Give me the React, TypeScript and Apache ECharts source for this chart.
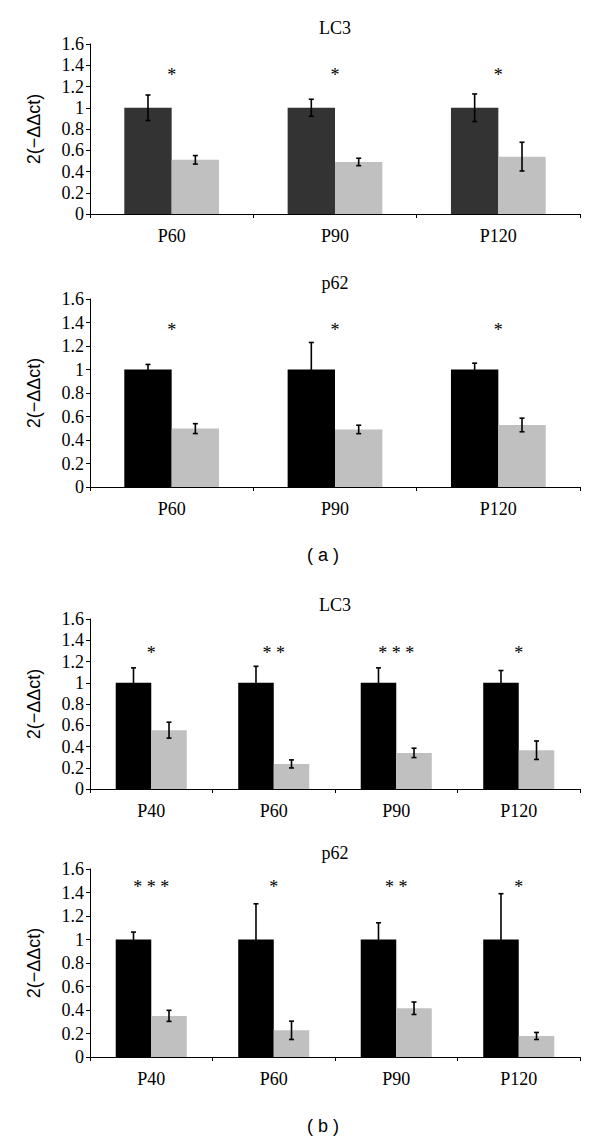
import React, { useEffect, useRef } from "react";
import * as echarts from "echarts";

// ---- data ----
const categoriesA = ["P60", "P90", "P120"];
const categoriesB = ["P40", "P60", "P90", "P120"];

const lc3AControl = [1, 1, 1];
const lc3AControlErr = [0.12, 0.08, 0.13];
const lc3ATreated = [0.51, 0.49, 0.54];
const lc3ATreatedErr = [0.04, 0.035, 0.135];
const lc3ASig = ["*", "*", "*"];

const p62AControl = [1, 1, 1];
const p62AControlErr = [0.043, 0.23, 0.054];
const p62ATreated = [0.497, 0.49, 0.528];
const p62ATreatedErr = [0.042, 0.036, 0.058];
const p62ASig = ["*", "*", "*"];

const lc3BControl = [1, 1, 1, 1];
const lc3BControlErr = [0.14, 0.155, 0.14, 0.115];
const lc3BTreated = [0.554, 0.236, 0.34, 0.365];
const lc3BTreatedErr = [0.075, 0.038, 0.044, 0.087];
const lc3BSig = ["*", "* *", "* * *", "*"];

const p62BControl = [1, 1, 1, 1];
const p62BControlErr = [0.063, 0.304, 0.142, 0.39];
const p62BTreated = [0.35, 0.227, 0.415, 0.179];
const p62BTreatedErr = [0.047, 0.078, 0.053, 0.03];
const p62BSig = ["* * *", "*", "* *", "*"];

const yMin = 0;
const yMax = 1.6;
const yStep = 0.2;
const yName = "2(\u2212\u0394\u0394ct)";

// ---- layout ----
const SERIF = "Liberation Serif";
const SANS = "Liberation Sans";
const FS = 18;
const PLOT_LEFT = 90;
const PLOT_RIGHT = 20;

const panels = [
  { title: "LC3", cats: categoriesA, c: lc3AControl, ce: lc3AControlErr, t: lc3ATreated, te: lc3ATreatedErr, sig: lc3ASig, sigY: 1.35, top: 44, height: 170, dark: "#333333", titleY: 28 },
  { title: "p62", cats: categoriesA, c: p62AControl, ce: p62AControlErr, t: p62ATreated, te: p62ATreatedErr, sig: p62ASig, sigY: 1.37, top: 299, height: 188, dark: "#000000", titleY: 283 },
  { title: "LC3", cats: categoriesB, c: lc3BControl, ce: lc3BControlErr, t: lc3BTreated, te: lc3BTreatedErr, sig: lc3BSig, sigY: 1.32, top: 619, height: 170, dark: "#000000", titleY: 605 },
  { title: "p62", cats: categoriesB, c: p62BControl, ce: p62BControlErr, t: p62BTreated, te: p62BTreatedErr, sig: p62BSig, sigY: 1.48, top: 869, height: 188, dark: "#000000", titleY: 853 },
];

const BAR_FRAC = 0.29;

function errorRender(offset: number) {
  return (params: any, api: any) => {
    const x = api.value(0);
    const v = api.value(1);
    const e = api.value(2);
    const bw = api.size([1, 0])[0];
    const cx = api.coord([x, v])[0] + offset * BAR_FRAC * bw;
    const yt = api.coord([x, v + e])[1];
    const yb = api.coord([x, v - e])[1];
    const cap = 2.5;
    const st = { stroke: "#000", lineWidth: 1.6 };
    return {
      type: "group",
      children: [
        { type: "line", shape: { x1: cx, y1: yt, x2: cx, y2: yb }, style: st },
        { type: "line", shape: { x1: cx - cap, y1: yt, x2: cx + cap, y2: yt }, style: st },
        { type: "line", shape: { x1: cx - cap, y1: yb, x2: cx + cap, y2: yb }, style: st },
      ],
    };
  };
}

function sigRender(params: any, api: any) {
  const x = api.value(0);
  const y = api.value(1);
  const label = api.value(2);
  const p = api.coord([x, y]);
  return {
    type: "text",
    x: p[0],
    y: p[1] + 4,
    style: {
      text: String(label),
      font: `${FS}px ${SERIF}`,
      fill: "#000",
      textAlign: "center",
      textVerticalAlign: "middle",
    },
  };
}

function buildOption() {
  const grid: any[] = [];
  const xAxis: any[] = [];
  const yAxis: any[] = [];
  const series: any[] = [];
  const graphic: any[] = [];

  panels.forEach((p, i) => {
    grid.push({ left: PLOT_LEFT, right: PLOT_RIGHT, top: p.top, height: p.height, containLabel: false });
    xAxis.push({
      type: "category",
      gridIndex: i,
      data: p.cats,
      boundaryGap: true,
      axisLine: { show: true, lineStyle: { color: "#000", width: 1 } },
      axisTick: { show: true, length: 4, inside: false, lineStyle: { color: "#000" } },
      axisLabel: { color: "#000", fontFamily: SERIF, fontSize: FS, margin: 13 },
      splitLine: { show: false },
    });
    yAxis.push({
      type: "value",
      gridIndex: i,
      min: yMin,
      max: yMax,
      interval: yStep,
      name: yName,
      nameLocation: "middle",
      nameGap: 47,
      nameRotate: 90,
      nameTextStyle: { color: "#000", fontFamily: SANS, fontSize: 18 },
      axisLine: { show: true, lineStyle: { color: "#000", width: 1 } },
      axisTick: { show: true, length: 4, inside: false, lineStyle: { color: "#000" } },
      axisLabel: { color: "#000", fontFamily: SERIF, fontSize: FS, margin: 6 },
      splitLine: { show: false },
    });
    series.push({
      type: "bar",
      xAxisIndex: i,
      yAxisIndex: i,
      data: p.c,
      barWidth: `${BAR_FRAC * 100}%`,
      barGap: "0%",
      itemStyle: { color: p.dark },
      z: 2,
    });
    series.push({
      type: "bar",
      xAxisIndex: i,
      yAxisIndex: i,
      data: p.t,
      barWidth: `${BAR_FRAC * 100}%`,
      barGap: "0%",
      itemStyle: { color: "#c0c0c0" },
      z: 2,
    });
    series.push({
      type: "custom",
      xAxisIndex: i,
      yAxisIndex: i,
      data: p.c.map((v, k) => [k, v, p.ce[k]]),
      encode: { x: 0, y: 1 },
      renderItem: errorRender(-0.5),
      z: 5,
    });
    series.push({
      type: "custom",
      xAxisIndex: i,
      yAxisIndex: i,
      data: p.t.map((v, k) => [k, v, p.te[k]]),
      encode: { x: 0, y: 1 },
      renderItem: errorRender(0.5),
      z: 5,
    });
    series.push({
      type: "custom",
      xAxisIndex: i,
      yAxisIndex: i,
      data: p.sig.map((s, k) => [k, p.sigY, s]),
      encode: { x: 0, y: 1 },
      dimensions: ["x", "y", { name: "s", type: "ordinal" }],
      renderItem: sigRender,
      z: 6,
    });
    graphic.push({
      type: "text",
      x: PLOT_LEFT + (600 - PLOT_LEFT - PLOT_RIGHT) / 2,
      y: p.titleY,
      style: {
        text: p.title,
        font: `${FS}px ${SERIF}`,
        fill: "#000",
        textAlign: "center",
        textVerticalAlign: "middle",
      },
    });
  });

  graphic.push({
    type: "text",
    x: 323,
    y: 555,
    style: { text: "( a )", font: `18px ${SANS}`, fill: "#000", textAlign: "center", textVerticalAlign: "middle" },
  });
  graphic.push({
    type: "text",
    x: 323,
    y: 1126,
    style: { text: "( b )", font: `18px ${SANS}`, fill: "#000", textAlign: "center", textVerticalAlign: "middle" },
  });

  return {
    animation: false,
    backgroundColor: "#ffffff",
    grid,
    xAxis,
    yAxis,
    series,
    graphic,
  };
}

export default function App() {
  const ref = useRef<HTMLDivElement>(null);
  useEffect(() => {
    document.body.style.margin = "0";
    document.body.style.overflow = "hidden";
    if (!ref.current) return;
    const chart = echarts.init(ref.current, undefined, { renderer: "svg" });
    chart.setOption(buildOption() as any);
    return () => {
      chart.dispose();
    };
  }, []);
  return <div ref={ref} style={{ width: 600, height: 1144 }} />;
}
